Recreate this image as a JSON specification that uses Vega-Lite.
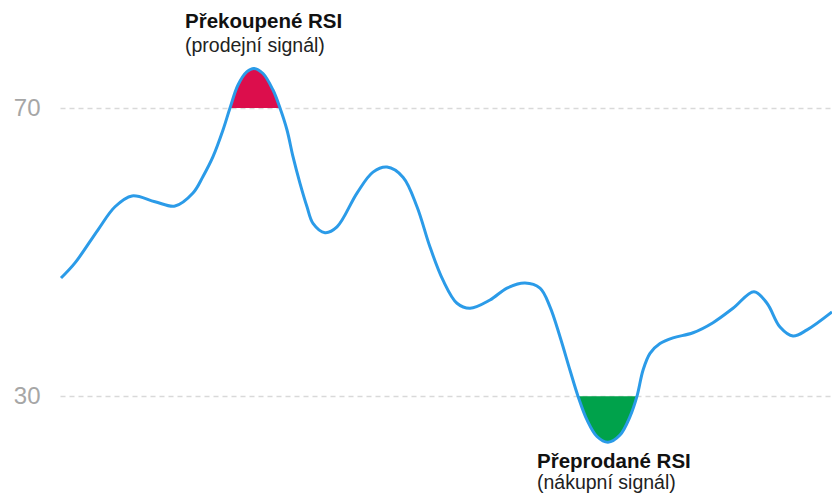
{
  "$schema": "https://vega.github.io/schema/vega-lite/v6.json",
  "width": 772,
  "height": 497,
  "autosize": {"type": "none"},
  "padding": {"left": 60, "top": 0, "right": 0, "bottom": 0},
  "background": "white",
  "config": {"view": {"stroke": null}},
  "datasets": {
    "rsi": [
      {"x": 1, "v": 46.4}, {"x": 15, "v": 48.5}, {"x": 38, "v": 53.1}, {"x": 55, "v": 56.3},
      {"x": 72, "v": 57.8}, {"x": 95, "v": 57.0}, {"x": 115, "v": 56.4}, {"x": 133, "v": 58.2},
      {"x": 143, "v": 60.5}, {"x": 153, "v": 63.25}, {"x": 163, "v": 66.95}, {"x": 170, "v": 70},
      {"x": 178, "v": 73.2}, {"x": 187, "v": 75.05}, {"x": 194, "v": 75.5}, {"x": 203, "v": 74.8},
      {"x": 213, "v": 72.5}, {"x": 220, "v": 70}, {"x": 227, "v": 66.95}, {"x": 233, "v": 63.25},
      {"x": 240, "v": 59.55}, {"x": 247, "v": 56.3}, {"x": 253, "v": 54.0}, {"x": 265, "v": 52.7},
      {"x": 277, "v": 53.5}, {"x": 297, "v": 58.2}, {"x": 313, "v": 61.1}, {"x": 327, "v": 61.8},
      {"x": 343, "v": 60.4}, {"x": 357, "v": 56.3}, {"x": 370, "v": 50.7}, {"x": 383, "v": 46.1},
      {"x": 397, "v": 42.9}, {"x": 410, "v": 42.2}, {"x": 430, "v": 43.35}, {"x": 447, "v": 45.0},
      {"x": 465, "v": 45.7}, {"x": 480, "v": 45.0}, {"x": 490, "v": 42.4}, {"x": 500, "v": 38.25},
      {"x": 510, "v": 33.6}, {"x": 518, "v": 30}, {"x": 527, "v": 26.7}, {"x": 537, "v": 24.4},
      {"x": 548, "v": 23.6}, {"x": 560, "v": 24.6}, {"x": 570, "v": 27.15}, {"x": 577, "v": 30},
      {"x": 583, "v": 33.6}, {"x": 590, "v": 35.95}, {"x": 600, "v": 37.3}, {"x": 613, "v": 38.1},
      {"x": 633, "v": 38.8}, {"x": 653, "v": 40.2}, {"x": 673, "v": 42.2}, {"x": 694, "v": 44.5},
      {"x": 707, "v": 42.9}, {"x": 720, "v": 39.6}, {"x": 733, "v": 38.35}, {"x": 747, "v": 39.2},
      {"x": 772, "v": 41.7}
    ],
    "notes": [
      {"x": 125, "v": 81.11, "role": "title", "label": "Překoupené RSI"},
      {"x": 125, "v": 77.78, "role": "note", "label": "(prodejní signál)"},
      {"x": 477, "v": 20.03, "role": "title", "label": "Přeprodané RSI"},
      {"x": 477, "v": 17.11, "role": "note", "label": "(nákupní signál)"}
    ]
  },
  "layer": [
    {
      "data": {"name": "rsi"},
      "transform": [{"filter": "datum.v >= 70"}],
      "mark": {"type": "area", "interpolate": "catmull-rom", "color": "#DC0E4C"},
      "encoding": {
        "x": {"field": "x", "type": "quantitative", "scale": {"domain": [0, 772], "nice": false, "zero": false}, "axis": null},
        "y": {"field": "v", "type": "quantitative", "scale": {"domain": [16, 85], "nice": false, "zero": false},
          "axis": {"values": [30, 70], "domain": false, "ticks": false, "title": null,
            "labelFontSize": 24, "labelColor": "#a6a6a6", "labelFont": "Liberation Sans",
            "labelPadding": 20, "gridColor": "#d9d9d9", "gridDash": [5, 4], "gridWidth": 1.5}},
        "y2": {"datum": 70}
      }
    },
    {
      "data": {"name": "rsi"},
      "transform": [{"filter": "datum.v <= 30"}],
      "mark": {"type": "area", "interpolate": "catmull-rom", "color": "#00A24B"},
      "encoding": {
        "x": {"field": "x", "type": "quantitative"},
        "y": {"field": "v", "type": "quantitative"},
        "y2": {"datum": 30}
      }
    },
    {
      "data": {"name": "rsi"},
      "mark": {"type": "line", "interpolate": "catmull-rom", "color": "#2B9BE8", "strokeWidth": 3},
      "encoding": {
        "x": {"field": "x", "type": "quantitative"},
        "y": {"field": "v", "type": "quantitative"}
      }
    },
    {
      "data": {"name": "notes"},
      "transform": [{"filter": "datum.role == 'title'"}],
      "mark": {"type": "text", "align": "left", "baseline": "alphabetic", "font": "Liberation Sans",
        "fontWeight": "bold", "fontSize": 20.5, "color": "#111111"},
      "encoding": {
        "x": {"field": "x", "type": "quantitative"},
        "y": {"field": "v", "type": "quantitative"},
        "text": {"field": "label"}
      }
    },
    {
      "data": {"name": "notes"},
      "transform": [{"filter": "datum.role == 'note'"}],
      "mark": {"type": "text", "align": "left", "baseline": "alphabetic", "font": "Liberation Sans",
        "fontSize": 19.5, "color": "#222222"},
      "encoding": {
        "x": {"field": "x", "type": "quantitative"},
        "y": {"field": "v", "type": "quantitative"},
        "text": {"field": "label"}
      }
    }
  ]
}
